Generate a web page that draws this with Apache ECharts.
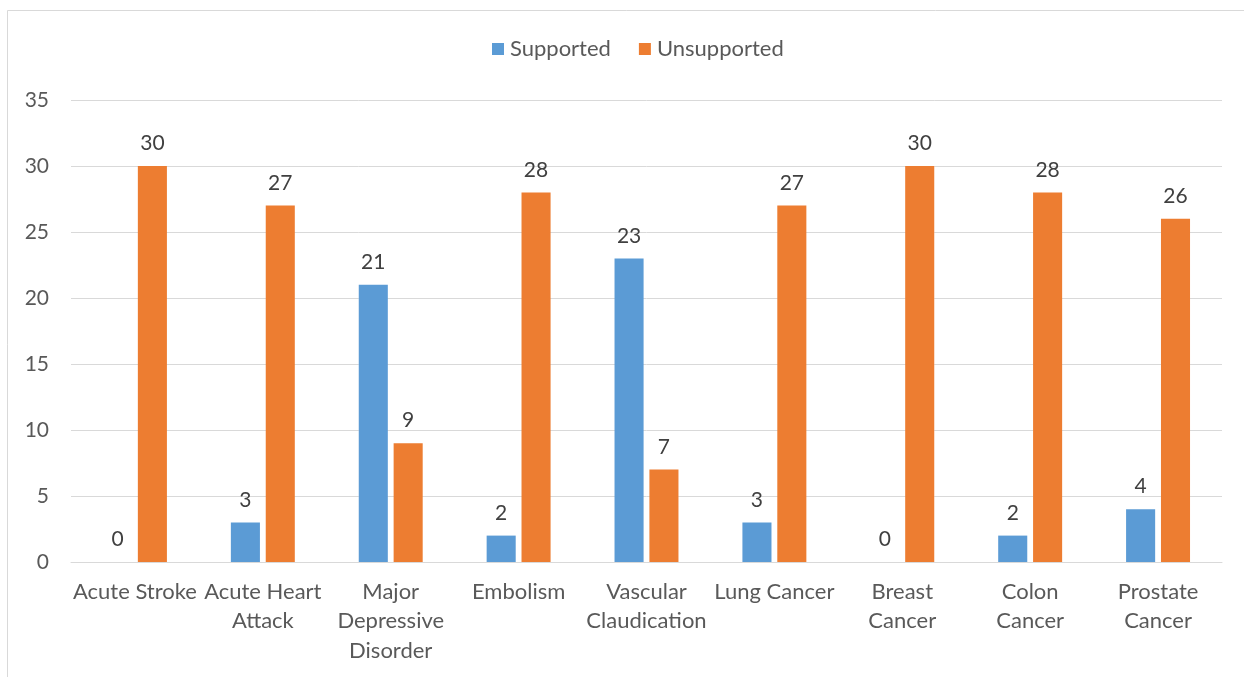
<!DOCTYPE html>
<html>
<head>
<meta charset="utf-8">
<script src="https://cdn.jsdelivr.net/npm/echarts@6/dist/echarts.min.js"></script>
<style>
  html, body { margin: 0; padding: 0; background: #fff; }
  #chart { width: 1244px; height: 677px; }
</style>
</head>
<body>
<div id="chart"></div>
<script>
// Condition names (line breaks as shown under the axis)
const categories = [
  'Acute Stroke',
  'Acute Heart\nAttack',
  'Major\nDepressive\nDisorder',
  'Embolism',
  'Vascular\nClaudication',
  'Lung Cancer',
  'Breast\nCancer',
  'Colon\nCancer',
  'Prostate\nCancer'
];
const supported   = [0, 3, 21, 2, 23, 3, 0, 2, 4];
const unsupported = [30, 27, 9, 28, 7, 27, 30, 28, 26];
const yTicks = { min: 0, max: 35, interval: 5 };

const FONT = 'Lato, "Open Sans", sans-serif';
const AXIS_TEXT = '#595959';
const VALUE_TEXT = '#404040';

const chart = echarts.init(document.getElementById('chart'), null, { renderer: 'canvas' });

const valueLabel = {
  show: true,
  position: 'top',
  distance: 12,
  color: VALUE_TEXT,
  fontFamily: FONT,
  fontSize: 21
};

chart.setOption({
  animation: false,
  backgroundColor: '#ffffff',
  graphic: [{
    type: 'rect',
    shape: { x: 7.5, y: 10.5, width: 1300, height: 700 },
    style: { fill: 'none', stroke: '#d9d9d9', lineWidth: 1 },
    silent: true
  }],
  legend: {
    top: 33,
    left: 487,
    itemWidth: 12,
    itemHeight: 12,
    itemGap: 28,
    icon: 'rect',
    textStyle: { color: AXIS_TEXT, fontFamily: FONT, fontSize: 22, padding: [0, 0, 0, 1] },
    data: ['Supported', 'Unsupported']
  },
  grid: { left: 71, right: 22, top: 100, bottom: 115, containLabel: false },
  xAxis: {
    type: 'category',
    data: categories,
    axisLine: { show: true, lineStyle: { color: '#d9d9d9', width: 1 } },
    axisTick: { show: false },
    axisLabel: {
      color: AXIS_TEXT,
      fontFamily: FONT,
      fontSize: 22,
      lineHeight: 29.5,
      margin: 15,
      interval: 0,
      align: 'center'
    }
  },
  yAxis: {
    type: 'value',
    min: yTicks.min,
    max: yTicks.max,
    interval: yTicks.interval,
    axisLine: { show: false },
    axisTick: { show: false },
    splitLine: { lineStyle: { color: '#d9d9d9', width: 1 } },
    axisLabel: { color: AXIS_TEXT, fontFamily: FONT, fontSize: 21, margin: 22 }
  },
  series: [
    {
      name: 'Supported',
      type: 'bar',
      data: supported,
      itemStyle: { color: '#5b9bd5' },
      barGap: '20%',
      barCategoryGap: '50%',
      label: valueLabel
    },
    {
      name: 'Unsupported',
      type: 'bar',
      data: unsupported,
      itemStyle: { color: '#ed7d31' },
      barGap: '20%',
      barCategoryGap: '50%',
      label: valueLabel
    }
  ]
});
</script>
</body>
</html>
